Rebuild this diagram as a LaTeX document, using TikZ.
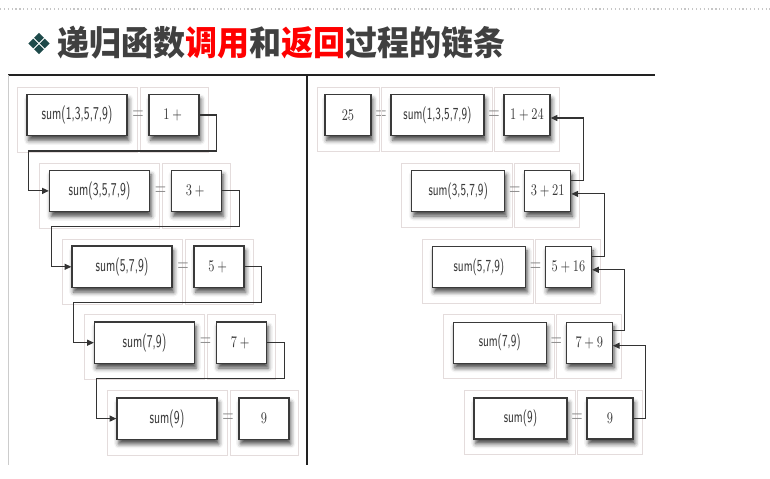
\documentclass[tikz,border=0pt]{standalone}
\usepackage{fontspec}
\usepackage{graphicx}
\newfontfamily\cjk{Noto Sans CJK SC}
\usetikzlibrary{arrows.meta,calc,shadows.blur}

\definecolor{titlegray}{HTML}{404040}
\definecolor{bulletc}{HTML}{1E4A4A}
\definecolor{boxline}{HTML}{3A3A3A}
\definecolor{framec}{HTML}{E4DCDC}
\definecolor{eqc}{HTML}{858585}
\definecolor{wire}{HTML}{333333}
\definecolor{rulec}{HTML}{222222}

% tall, narrow lettering used inside the cells
\newcommand{\tall}[1]{\scalebox{1}[1.6]{#1}}
\newcommand{\tallnum}[1]{\scalebox{1}[1.35]{#1}}

\begin{document}
\begin{tikzpicture}[x=0.75pt,y=-0.75pt,
  cell/.style={draw=boxline, line width=1pt, fill=white, inner sep=0pt,
    minimum height=31pt, text=boxline,
    blur shadow={shadow xshift=1.3pt, shadow yshift=-3.5pt,
      shadow blur radius=3.4pt, shadow opacity=72}},
  longL/.style={cell, minimum width=75pt, font=\fontsize{8.5}{10}\selectfont\sffamily},
  shortL/.style={cell, minimum width=37.5pt, font=\fontsize{9.5}{10}\selectfont},
  longR/.style={cell, minimum width=69.75pt, minimum height=30.75pt, font=\fontsize{7.9}{9}\selectfont\sffamily},
  shortR/.style={cell, minimum width=34.5pt, minimum height=30.75pt, font=\fontsize{9.3}{9}\selectfont},
  eqsign/.style={text=eqc, font=\fontsize{10.5}{10}\selectfont, inner sep=0pt},
  cellframe/.style={draw=framec, line width=0.45pt},
  wirearrow/.style={draw=wire, line width=0.8pt, -{Triangle[length=5pt,width=4.5pt]}},
]
\useasboundingbox (0,0) rectangle (770,478);

% header
\draw[gray!45, dotted, line width=0.9pt] (0,9) -- (770,9);
\foreach \dx/\dy in {0/-5.8, 0/5.8, -5.8/0, 5.8/0}
  \fill[bulletc] ($(39,43.5)+(\dx,\dy)$) +(0,-4.9) -- +(4.9,0) -- +(0,4.9) -- +(-4.9,0) -- cycle;
\node[anchor=west, inner sep=0pt, text=titlegray,
      font=\cjk\bfseries\fontsize{24}{26}\selectfont] (title) at (57.5,43)
  {\scalebox{1}[1.06]{递归函数\textcolor{red}{调用}和\textcolor{red}{返回}过程的链条}};

% panel rules
\draw[rulec, line width=1pt] (8,75) -- (655,75);
\draw[rulec, line width=1pt] (307,75) -- (307,465);
\draw[gray!40, line width=0.6pt] (8,75) -- (8,465);

% left panel: the chain of calls
\foreach \i/\lt/\st in {0/{sum(1,3,5,7,9)}/{$1+{}$}, 1/{sum(3,5,7,9)}/{$3+{}$},
                        2/{sum(5,7,9)}/{$5+{}$}, 3/{sum(7,9)}/{$7+{}$}, 4/{sum(9)}/{$9$}} {
  \pgfmathsetmacro{\lx}{27+22.5*\i}
  \pgfmathsetmacro{\cy}{115+75.9*\i}
  \draw[cellframe] (\lx-10,\cy-28) rectangle (\lx+110,\cy+37);
  \draw[cellframe] (\lx+113,\cy-28) rectangle (\lx+181,\cy+37);
  \node[longL] (L\i) at (\lx+50,\cy) {\tall{\lt}};
  \node[eqsign] (LE\i) at (\lx+111,\cy) {\tall{$=$}};
  \node[shortL] (S\i) at (\lx+147,\cy) {\tallnum{\st}};
}
\foreach \i/\j in {0/1, 1/2, 2/3, 3/4}
  \draw[wirearrow] (S\i.east) -| ++(17,36) -| ($(L\j.west)+(-20,0)$) -- (L\j.west);

% right panel: the chain of returns
\draw[cellframe] (317,87) rectangle (379,151);
\node[shortR] (R25) at (348,115) {\tallnum{$25$}};
\node[eqsign] (RE25) at (381,115) {\tall{$=$}};
\foreach \i/\lt/\st in {0/{sum(1,3,5,7,9)}/{$1+24$}, 1/{sum(3,5,7,9)}/{$3+21$},
                        2/{sum(5,7,9)}/{$5+16$}, 3/{sum(7,9)}/{$7+9$}, 4/{sum(9)}/{$9$}} {
  \pgfmathsetmacro{\lx}{391+20.75*\i}
  \pgfmathsetmacro{\cy}{115+75.9*\i}
  \draw[cellframe] (\lx-10,\cy-28) rectangle (\lx+101,\cy+36);
  \draw[cellframe] (\lx+103,\cy-28) rectangle (\lx+168,\cy+36);
  \node[longR] (RL\i) at (\lx+46.5,\cy) {\tall{\lt}};
  \node[eqsign] (RE\i) at (\lx+103,\cy) {\tall{$=$}};
  \node[shortR] (RS\i) at (\lx+136,\cy) {\tallnum{\st}};
}
\foreach \i/\j/\off in {1/0/-10, 2/1/-10, 3/2/-12, 4/3/0}
  \draw[wirearrow] ($(RS\i.east)+(0,\off)$) -- ++(12,0) |- ($(RS\j.east)+(0,3)$);
\end{tikzpicture}
\end{document}
